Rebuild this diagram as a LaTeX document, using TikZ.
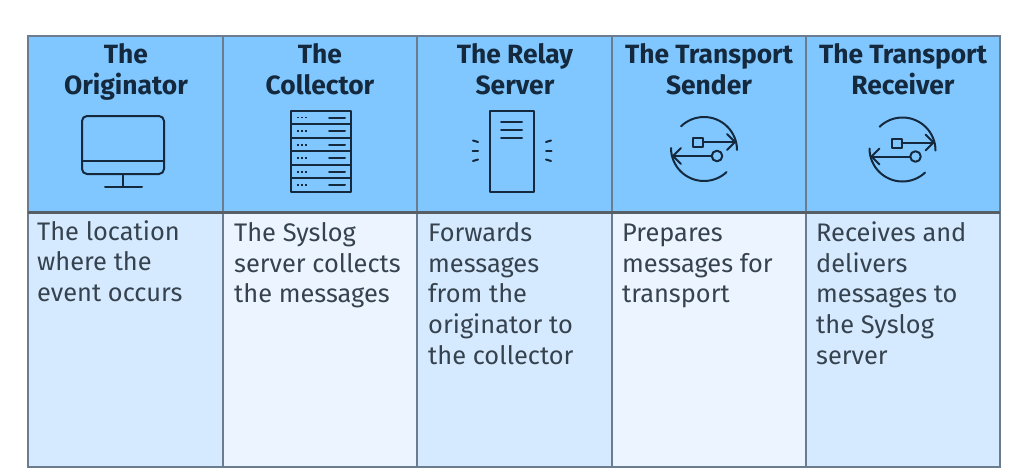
\documentclass[tikz,border=0pt]{standalone}
\usepackage{fontspec}
\setmainfont{Fira Sans}
\definecolor{hdr}{HTML}{80C7FF}
\definecolor{cellA}{HTML}{D6EAFF}
\definecolor{cellB}{HTML}{ECF5FF}
\definecolor{grid}{HTML}{6A7C8E}
\definecolor{rulec}{HTML}{565E66}
\definecolor{ink}{HTML}{14293D}
\definecolor{bodytxt}{HTML}{36434F}
\newcommand{\firstln}{\rule{0pt}{20pt}}
\tikzset{
  x=1pt,y=-1pt,
  hd/.style={anchor=north,align=center,text=ink,inner sep=0pt,font=\fontsize{26.4}{31}\selectfont\bfseries},
  bd/.style={anchor=north west,align=left,text=bodytxt,inner sep=0pt,font=\fontsize{25.4}{30.6}\selectfont},
  gridline/.style={draw=grid,line width=1.5pt},
  ico/.style={draw=ink,line width=2pt,line cap=round,line join=round},
  pics/usb/.style={code={
    \draw[ico] (-33,-1) arc[start angle=180,end angle=47,radius=33];
    \draw[ico] (33,1) arc[start angle=0,end angle=-134,radius=33];
    \draw[ico] (-11,-11) rectangle (-1,-2);
    \draw[ico] (-1,-7) -- (31,-7);
    \draw[ico] (23,-15) -- (31,-7) -- (23,1);
    \draw[ico] (13,7) circle[radius=5.3];
    \draw[ico] (7.7,7) -- (-31,7);
    \draw[ico] (-23,-1) -- (-31,7) -- (-23,15);
  }}
}
\begin{document}
\begin{tikzpicture}
\useasboundingbox (0,0) rectangle (1009,474);
\fill[white] (0,0) rectangle (1009,474);
% fills
\fill[hdr] (28,36) rectangle (1000,212);
\fill[cellA] (28,212) rectangle (223,467);
\fill[cellB] (223,212) rectangle (417,467);
\fill[cellA] (417,212) rectangle (612,467);
\fill[cellB] (612,212) rectangle (806,467);
\fill[cellA] (806,212) rectangle (1000,467);
% grid
\foreach \gx in {223,417,612,806}
  \draw[gridline] (\gx,36) -- (\gx,467);
\draw[gridline] (28,36) rectangle (1000,467);
\draw[draw=rulec,line width=3.5pt] (28,212.5) -- (1000,212.5);
% headers
\node[hd] (h1) at (126,43) {The\\Originator};
\node[hd] (h2) at (320,43) {The\\Collector};
\node[hd] (h3) at (515,43) {The Relay\\Server};
\node[hd] (h4) at (709,43) {The Transport\\Sender};
\node[hd] (h5) at (903,43) {The Transport\\Receiver};
% bodies
\node[bd] (b1) at (37,220) {\firstln The location\\where the\\event occurs};
\node[bd] (b2) at (234,221.5) {\firstln The Syslog\\server collects\\the messages};
\node[bd] (b3) at (428,221.5) {\firstln Forwards\\messages\\from the\\originator to\\the collector};
\node[bd] (b4) at (622,221.5) {\firstln Prepares\\messages for\\transport};
\node[bd] (b5) at (816,221.5) {\firstln Receives and\\delivers\\messages to\\the Syslog\\server};
% monitor
\draw[ico,rounded corners=5pt] (82,116) rectangle (164,174);
\draw[ico] (82,160.5) -- (164,160.5);
\draw[ico] (123,174) -- (123,187);
\draw[ico] (105,187) -- (142,187);
% rack
\draw[ico] (291,110.7) rectangle (351,192);
\foreach \ry in {124.2,137.8,151.3,164.9,178.4}
  \draw[ico] (291,\ry) -- (351,\ry);
\foreach \ry in {117.5,131,144.6,158.1,171.7,185.2}{
  \draw[ico] (329,\ry) -- (345,\ry);
  \draw[ico,line width=1.8pt,dash pattern=on 1.8pt off 2.4pt,line cap=butt] (297,\ry) -- (309,\ry);
}
% relay server
\draw[ico] (489.5,110.7) rectangle (534,191.7);
\foreach \ry in {121.7,129.5,137.7}
  \draw[ico] (501,\ry) -- (522,\ry);
\draw[ico] (473,140.5) -- (478,142);
\draw[ico] (472.5,151) -- (478,151);
\draw[ico] (473,161) -- (478,159.5);
\draw[ico] (546,142) -- (551,140.5);
\draw[ico] (546,151) -- (551.5,151);
\draw[ico] (546,159.5) -- (551,161);
% transport icons
\pic at (704,149) {usb};
\pic at (902.5,149.5) {usb};
\end{tikzpicture}
\end{document}
